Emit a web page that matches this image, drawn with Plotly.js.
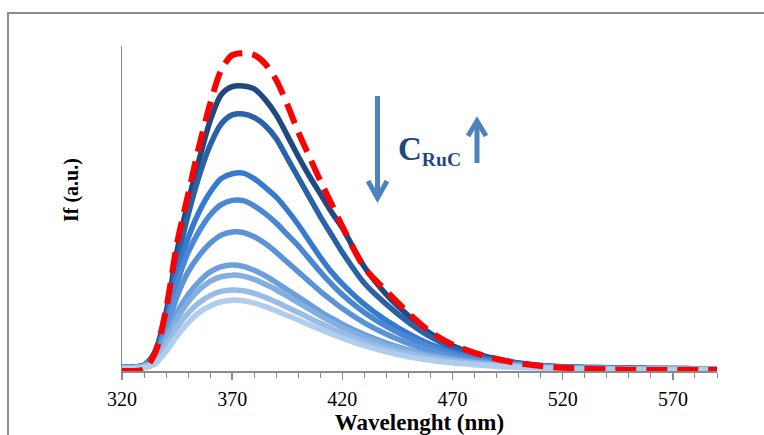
<!DOCTYPE html>
<html>
<head>
<meta charset="utf-8">
<script src="https://cdn.plot.ly/plotly-3.0.1.min.js"></script>
<style>html,body{margin:0;padding:0;background:#fff;}#chart{width:764px;height:435px;}</style>
</head>
<body>
<div id="chart"></div>
<script>
// Wavelength grid (nm)
const wavelength = [320,325,330,335,340,345,350,355,360,365,370,375,380,385,390,395,400,405,410,415,420,430,440,450,460,470,480,490,500,510,520,530,540,550,560,570,580,590];

// Emission spectra (a.u.), from highest to lowest with increasing C_RuC
const s1 = [12,12,18,60,180,370,520,650,770,850,875,877,868,835,788,725,660,600,545,490,440,320,235,170,115,78,54,37,25,17,13,11,10,9,8,8,7,7];
const s2 = [12,12,18,55,165,340,480,600,695,760,788,791,780,755,715,655,595,535,475,420,365,270,205,150,105,72,50,34,24,17,13,11,10,9,8,8,7,7];
const s3 = [12,12,17,50,150,300,410,490,550,592,607,609,592,565,535,495,450,400,350,305,268,205,155,115,82,58,42,30,22,16,12,10,9,8,8,7,7,7];
const s4 = [12,12,17,48,140,270,365,430,480,512,525,524,508,484,455,420,385,345,305,268,235,180,137,102,74,53,38,28,20,15,12,10,9,8,7,7,7,7];
const s5 = [11,11,16,44,125,230,305,355,393,418,428,426,413,392,365,335,305,275,245,218,192,148,113,85,62,45,33,24,18,14,11,9,8,7,7,6,6,6];
const s6 = [11,11,15,40,105,180,235,275,305,321,326,322,310,293,272,250,228,205,183,163,144,112,86,65,49,37,28,21,16,12,10,8,7,7,6,6,6,6];
const s7 = [10,10,14,36,95,162,212,250,276,290,295,292,282,267,250,230,210,190,170,151,134,104,80,61,46,35,26,20,15,12,10,8,7,6,6,6,5,5];
const s8 = [10,10,13,30,78,135,178,210,232,245,249,247,239,227,212,196,180,163,147,131,116,90,69,53,40,30,23,18,14,11,9,7,6,6,5,5,5,5];
const s9 = [8,8,10,22,60,108,148,180,200,213,218,216,209,198,185,171,157,142,128,114,101,78,59,44,33,25,19,14,11,9,7,6,5,5,4,4,4,4];
// Reference spectrum (red dashed)
const ref = [0,0,5,55,190,393,543,692,822,926,972,978,972,945,895,820,735,660,585,515,445,318,246,178,120,81,56,37,24,15,10,7,5,4,3,3,3,3];

const blueSeries = [s1,s2,s3,s4,s5,s6,s7,s8,s9];
const blueNames = ['S1','S2','S3','S4','S5','S6','S7','S8','S9'];
const blueColors = ['#1f4a80','#2b61a6','#357ad0','#4a88d5','#5a93d7','#6c9fdc','#83aee1','#98bce7','#b0cdee'];

const traces = blueSeries.map((ys, i) => ({
  x: wavelength, y: ys, name: blueNames[i], type: 'scatter', mode: 'lines',
  line: {color: blueColors[i], width: 5.5, shape: 'spline', smoothing: 0.8},
  hoverinfo: 'skip'
}));
traces.push({
  x: wavelength, y: ref, name: 'Ref', type: 'scatter', mode: 'lines',
  line: {color: '#ff0000', width: 6, dash: '21px,10px', shape: 'spline', smoothing: 0.8},
  hoverinfo: 'skip'
});

const axisGray = '#8a8a8a';
const arrowBlue = '#4f81bd';
const serif = 'Liberation Serif, Times New Roman, serif';

const layout = {
  width: 764, height: 435,
  margin: {l: 122, r: 47, t: 46, b: 64},
  paper_bgcolor: '#ffffff', plot_bgcolor: '#ffffff',
  showlegend: false,
  xaxis: {
    range: [320, 590], tick0: 320, dtick: 50, ticks: 'outside', ticklen: 7, tickwidth: 1.5, tickcolor: axisGray,
    minor: {dtick: 10, ticks: 'outside', ticklen: 5, tickwidth: 1, tickcolor: axisGray},
    showline: true, linecolor: axisGray, linewidth: 1.5, showgrid: false, zeroline: false,
    tickfont: {family: serif, size: 20, color: '#000'}, ticklabelstandoff: 2,
    title: {text: '<b>Wavelenght (nm)</b>', font: {family: serif, size: 23, color: '#000'}, standoff: 9}
  },
  yaxis: {
    range: [0, 1000], showticklabels: false, ticks: '', showgrid: false, zeroline: false,
    showline: true, linecolor: axisGray, linewidth: 1.5
  },
  shapes: [
    {type: 'rect', xref: 'paper', yref: 'paper',
     x0: -0.1916, x1: 1.09, y0: -0.22, y1: 1.1015,
     line: {color: '#8c8c8c', width: 2}, fillcolor: 'rgba(0,0,0,0)', layer: 'below'},
    // down arrow: shaft + chevron head
    {type: 'line', xref: 'paper', yref: 'paper', x0: 0.42941, x1: 0.42941, y0: 0.84615, y1: 0.54154,
     line: {color: arrowBlue, width: 5}},
    {type: 'path', xref: 'paper', yref: 'paper', path: 'M0.41345,0.58462 L0.42941,0.53231 L0.44538,0.58462',
     line: {color: arrowBlue, width: 5}, fillcolor: 'rgba(0,0,0,0)'},
    // up arrow: shaft + chevron head
    {type: 'line', xref: 'paper', yref: 'paper', x0: 0.59664, x1: 0.59664, y0: 0.64, y1: 0.76,
     line: {color: arrowBlue, width: 5}},
    {type: 'path', xref: 'paper', yref: 'paper', path: 'M0.58151,0.72308 L0.59664,0.76923 L0.61176,0.72308',
     line: {color: arrowBlue, width: 5}, fillcolor: 'rgba(0,0,0,0)'}
  ],
  annotations: [
    {xref: 'paper', yref: 'paper', x: -0.084, y: 0.557, xanchor: 'center', yanchor: 'middle',
     text: '<b>If (a.u.)</b>', textangle: -90, showarrow: false,
     font: {family: serif, size: 20, color: '#000'}},
    {xref: 'paper', yref: 'paper', x: 0.5176, y: 0.677, xanchor: 'center', yanchor: 'middle', showarrow: false,
     text: '<b><span style="font-size:33px">C</span><sub>RuC</sub></b>',
     font: {family: serif, size: 28, color: '#1f497d'}}
  ]
};

Plotly.newPlot('chart', traces, layout, {staticPlot: true, displayModeBar: false});
</script>
</body>
</html>
